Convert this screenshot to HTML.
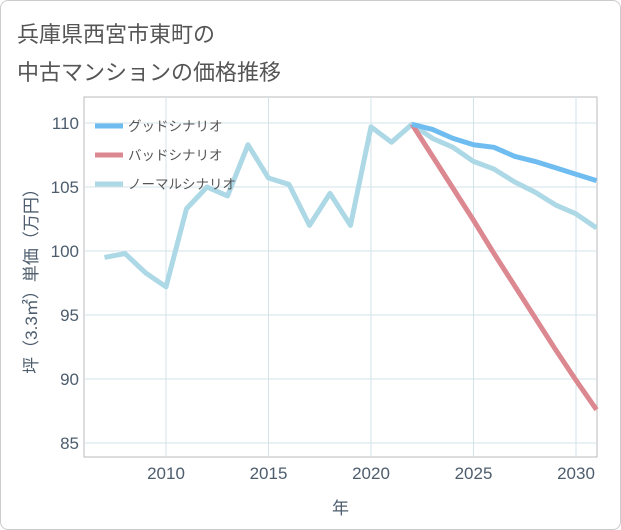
<!DOCTYPE html>
<html><head><meta charset="utf-8"><style>
body{margin:0;background:#fff;}
#wrap{position:relative;width:619px;height:528px;border:1px solid #ccc;border-radius:8px;overflow:hidden;font-family:"Liberation Sans","Noto Sans CJK JP",sans-serif;}
.title{position:absolute;left:16px;font-size:22px;color:#555;}
</style></head><body>
<div id="wrap">
<div class="title" style="top:16px">兵庫県西宮市東町の</div>
<div class="title" style="top:54px">中古マンションの価格推移</div>
<svg id="chart" width="621" height="530" style="position:absolute;left:-1px;top:-1px"></svg>
</div>
<script>
const years=[2007,2008,2009,2010,2011,2012,2013,2014,2015,2016,2017,2018,2019,2020,2021,2022,2023,2024,2025,2026,2027,2028,2029,2030,2031];
const normalVals=[99.5,99.8,98.3,97.2,103.3,105.0,104.3,108.3,105.7,105.2,102.0,104.5,102.0,109.7,108.5,109.9,108.8,108.1,107.0,106.4,105.4,104.6,103.6,102.9,101.8];
const futureYears=[2022,2023,2024,2025,2026,2027,2028,2029,2030,2031];
const goodVals=[109.9,109.5,108.8,108.3,108.1,107.4,107.0,106.5,106.0,105.5];
const badVals=[109.9,107.4,104.9,102.4,99.8,97.3,94.8,92.3,89.9,87.6];
const xTicks=[2010,2015,2020,2025,2030];
const yTicks=[85,90,95,100,105,110];
const L=84,R=597,T=97,B=457;
const X=y=>166+(y-2010)*20.5;
const Y=v=>123+(110-v)*12.8;
const svg=document.getElementById('chart');
const NS='http://www.w3.org/2000/svg';
function mk(t,a){const e=document.createElementNS(NS,t);for(const k in a)e.setAttribute(k,a[k]);svg.appendChild(e);return e;}
let r=mk('rect',{x:L,y:T,width:R-L,height:B-T,fill:'#fff',stroke:'#bbb','stroke-width':1});


xTicks.forEach(t=>{
 let g=mk('line',{x1:X(t),x2:X(t),y1:T,y2:B,stroke:'#d3e3ea','stroke-width':1});
 
 
 let s=mk('text',{x:X(t),y:B+22,'text-anchor':'middle','font-size':17,fill:'#4d5d6d'});s.textContent=t;
 
 
});
yTicks.forEach(t=>{
 let g=mk('line',{x1:L,x2:R,y1:Y(t),y2:Y(t),stroke:'#d3e3ea','stroke-width':1});
 
 
 let s=mk('text',{x:L-5,y:Y(t)+6,'text-anchor':'end','font-size':17,fill:'#4d5d6d'});s.textContent=t;
 
 
});
let xt=mk('text',{x:(L+R)/2,y:514,'text-anchor':'middle','font-size':17,fill:'#4d5d6d'});xt.textContent='年';


let yt=mk('text',{x:0,y:0,'text-anchor':'middle','font-size':17,fill:'#4d5d6d',transform:'translate(37,277) rotate(-90)'});yt.textContent='坪（3.3㎡）単価（万円）';


function line(xs,vs,c,name){
 let p=mk('polyline',{points:xs.map((x,i)=>X(x)+','+Y(vs[i])).join(' '),fill:'none',stroke:c,'stroke-width':5,'stroke-linejoin':'round'});
 
 
}
line(years,normalVals,'#add8e6','normal-scenario-line');
line(futureYears,badVals,'#dc8890','bad-scenario-line');
line(futureYears,goodVals,'#6fbdf0','good-scenario-line');
[['グッドシナリオ','#6fbdf0'],['バッドシナリオ','#dc8890'],['ノーマルシナリオ','#add8e6']].forEach((l,i)=>{
 let y=126+i*29;
 let ln=mk('line',{x1:95,x2:123,y1:y,y2:y,stroke:l[1],'stroke-width':5});
 
 
 let t=mk('text',{x:128,y:y+5,'font-size':13.5,fill:'#555'});t.textContent=l[0];
 
 
});
</script>
</body></html>
